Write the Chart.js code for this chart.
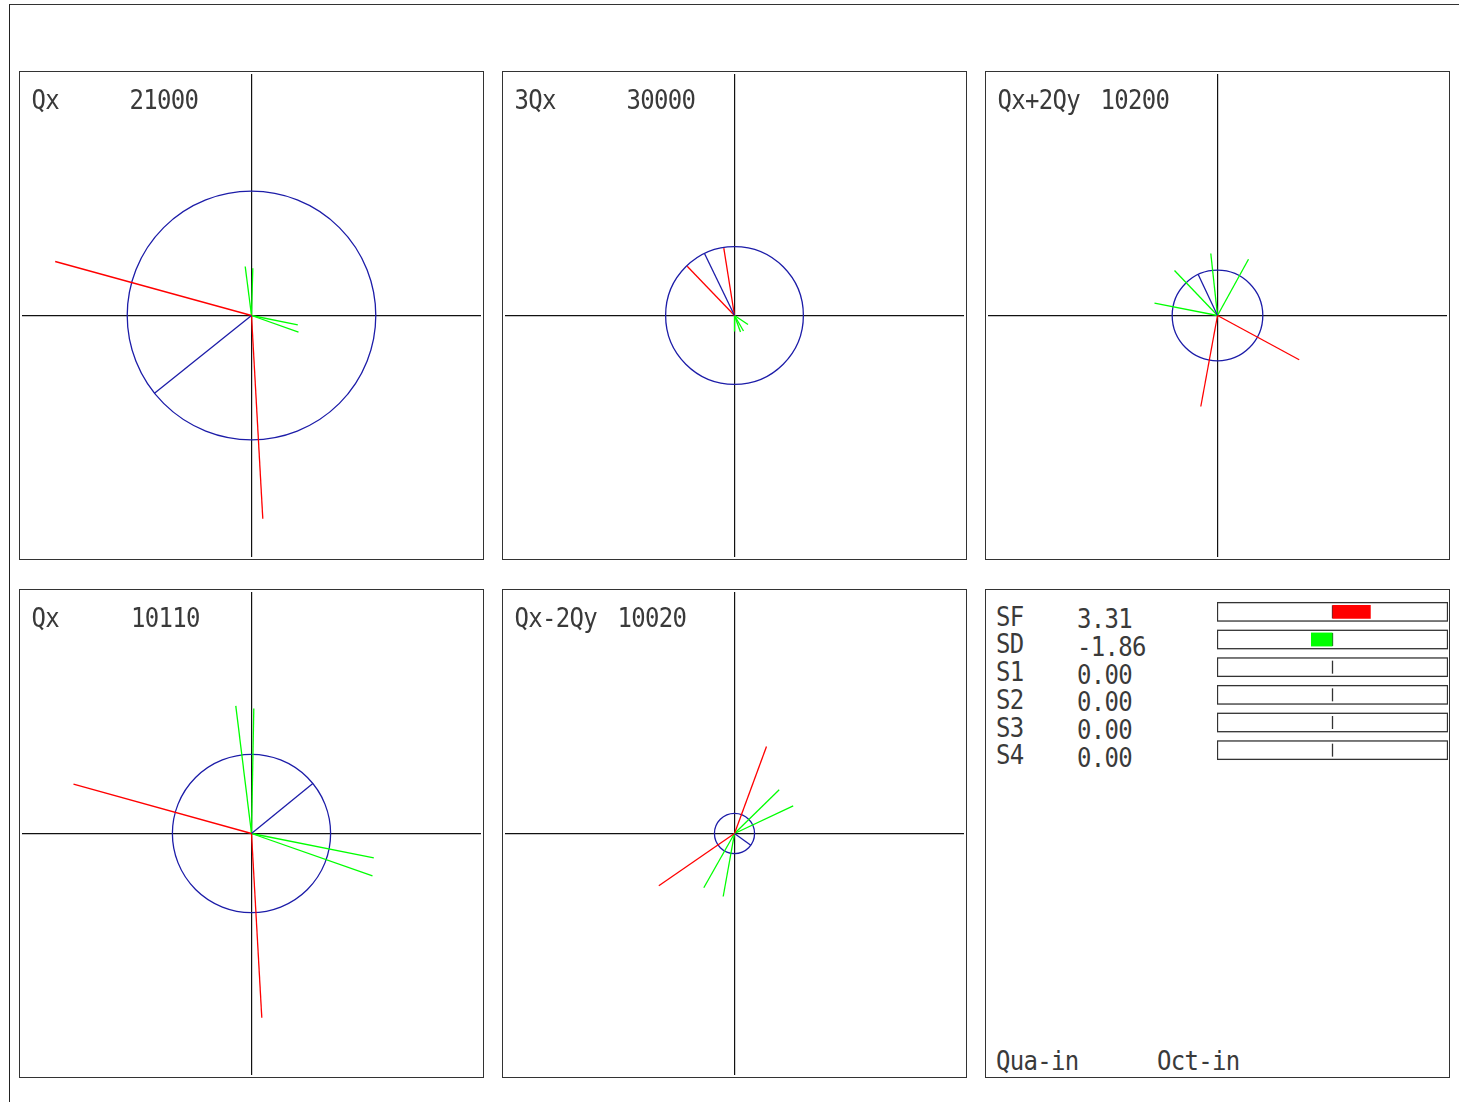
<!DOCTYPE html>
<html>
<head>
<meta charset="utf-8">
<script src="https://cdn.jsdelivr.net/npm/chart.js@4.4.1/dist/chart.umd.min.js"></script>
<style>
    body { margin: 0; background: #fff; width: 1459px; height: 1102px; overflow: hidden; position: relative; }
    .frame { position: absolute; left: 9px; top: 4px; right: -10px; bottom: -10px; border-top: 1px solid #333; border-left: 1.5px solid #222; }
    .panel { position: absolute; width: 465px; height: 489px; box-sizing: border-box; border: 1px solid #333; }
    .panel canvas { display: block; }
    .txt { position: absolute; font-family: "DejaVu Sans Mono", monospace; font-size: 24px; line-height: 24px; color: #3a3a3a;
           white-space: pre; letter-spacing: -0.7px; transform: scale(1, 1.08); transform-origin: 0 20px; }
    #barsWrap { position: absolute; left: 1217px; top: 598px; }
</style>
</head>
<body>
<div class="frame"></div>
<div id="root"></div>
<div id="barsWrap"><canvas id="bars" width="231" height="166"></canvas></div>

<script>
    // -----------------------------
    // DATA (vector end points, units ~ px from panel centre)
    // -----------------------------
    const panelNames = ["Qx", "3Qx", "Qx+2Qy", "Qx", "Qx-2Qy"];
    const panelCodes = ["21000", "30000", "10200", "10110", "10020"];

    // total driving term (blue); circle radius = its length
    const blueVectors = [[-97, -77.7], [-30, 62], [-19.3, 41], [61.3, 50], [16.3, -11.7]];

    // SF contributions (red)
    const redVectors = [
        [[-196.3, 54], [11.3, -203.3]],
        [[-47.3, 49.3], [-10.7, 67.3]],
        [[81.7, -44.3], [-16.7, -91]],
        [[-178, 49.3], [10.3, -184.3]],
        [[32, 87], [-75.7, -52.3]]
    ];

    // SD contributions (green)
    const greenVectors = [
        [[-6.3, 49], [1.3, 47.3], [46.3, -9.3], [47, -16.7]],
        [[0, -16], [6, -16.5], [9, -15.5], [13.5, -9]],
        [[-63, 12.3], [-43, 45], [-6.7, 62], [31, 56.3]],
        [[-15.7, 127.7], [2.3, 125], [122.3, -24.3], [121, -42.3]],
        [[44.7, 43.7], [58.7, 27.7], [-30.7, -54.3], [-11.3, -63]]
    ];

    // sextupole strengths
    const strengthNames = ["SF", "SD", "S1", "S2", "S3", "S4"];
    const strengthValues = [3.31, -1.86, 0.00, 0.00, 0.00, 0.00];
    const strengthColors = ["#ff0000", "#00ff00", "#ff0000", "#ff0000", "#ff0000", "#ff0000"];

    const footerLabels = ["Qua-in", "Oct-in"];

    // -----------------------------
    // LAYOUT
    // -----------------------------
    const panelLeft = [19, 502, 985];
    const panelTop = [71, 589];
    const HALF_X = 229.5, HALF_Y = 241.5;
    const root = document.getElementById("root");

    function addText(str, x, baseline) {
        const d = document.createElement("div");
        d.className = "txt";
        d.textContent = str;
        d.style.left = x + "px";
        d.style.top = (baseline - 20.3) + "px";
        document.body.appendChild(d);
        return d;
    }

    // circle plugin: radius from the blue vector through the chart's own scales
    const circlePlugin = {
        id: "ampCircle",
        beforeDatasetsDraw(chart, args, opts) {
            const sx = chart.scales.x, sy = chart.scales.y;
            const r = Math.hypot(opts.vec[0], opts.vec[1]);
            const cx = sx.getPixelForValue(0), cy = sy.getPixelForValue(0);
            const rp = Math.abs(sx.getPixelForValue(r) - cx);
            const ctx = chart.ctx;
            ctx.save();
            ctx.strokeStyle = "#1c1ca8";
            ctx.lineWidth = 1.3;
            ctx.beginPath();
            ctx.arc(cx, cy, rp, 0, Math.PI * 2);
            ctx.stroke();
            ctx.restore();
        }
    };

    function vec(v, color) {
        return {
            data: [{ x: 0, y: 0 }, { x: v[0], y: v[1] }],
            showLine: true,
            borderColor: color,
            borderWidth: 1.3,
            pointRadius: 0
        };
    }

    function axisOpts(half) {
        return {
            type: "linear",
            min: -half,
            max: half,
            ticks: { display: false, stepSize: half },
            grid: {
                drawTicks: false,
                lineWidth: 1.2,
                color: c => (c.tick && c.tick.value === 0) ? "#111" : "rgba(0,0,0,0)"
            },
            border: { display: false }
        };
    }

    panelNames.forEach((name, i) => {
        const col = i % 3, row = Math.floor(i / 3);
        const left = panelLeft[col], top = panelTop[row];

        const div = document.createElement("div");
        div.className = "panel";
        div.style.left = left + "px";
        div.style.top = top + "px";
        const cv = document.createElement("canvas");
        cv.width = 463;
        cv.height = 487;
        div.appendChild(cv);
        root.appendChild(div);

        const datasets = [vec(blueVectors[i], "#1c1ca8")];
        redVectors[i].forEach(v => datasets.push(vec(v, "#ff0000")));
        greenVectors[i].forEach(v => datasets.push(vec(v, "#00ff00")));

        new Chart(cv.getContext("2d"), {
            type: "scatter",
            data: { datasets },
            options: {
                responsive: false,
                animation: false,
                layout: { padding: 2 },
                plugins: { legend: { display: false }, tooltip: { enabled: false }, ampCircle: { vec: blueVectors[i] } },
                scales: { x: axisOpts(HALF_X), y: axisOpts(HALF_Y) }
            },
            plugins: [circlePlugin]
        });

        addText(name, left + 12.5, top + 38);
        const codeX = [110.5, 124.5, 115.5, 112, 115.5][i];
        addText(panelCodes[i], left + codeX, top + 38);
    });

    // -----------------------------
    // STRENGTH PANEL
    // -----------------------------
    const p6 = document.createElement("div");
    p6.className = "panel";
    p6.style.left = panelLeft[2] + "px";
    p6.style.top = panelTop[1] + "px";
    root.appendChild(p6);

    strengthNames.forEach((n, i) => {
        addText(n, 996, 626 + i * 27.7);
        addText(strengthValues[i].toFixed(2), 1077, 628.5 + i * 27.7);
    });
    addText(footerLabels[0], 996, 1070);
    addText(footerLabels[1], 1157, 1070);

    const framePlugin = {
        id: "rowFrames",
        beforeDatasetsDraw(chart) {
            const sx = chart.scales.x, sy = chart.scales.y, ctx = chart.ctx;
            const x0 = sx.getPixelForValue(0);
            ctx.save();
            ctx.strokeStyle = "#333";
            ctx.lineWidth = 1.3;
            strengthNames.forEach((n, i) => {
                const yc = sy.getPixelForValue(i);
                ctx.strokeRect(sx.left + 0.5, yc - 9.2, sx.right - sx.left - 1, 18.4);
                ctx.beginPath();
                ctx.moveTo(x0, yc - 6.5);
                ctx.lineTo(x0, yc + 6.5);
                ctx.stroke();
            });
            ctx.restore();
        }
    };

    new Chart(document.getElementById("bars").getContext("2d"), {
        type: "bar",
        data: {
            labels: strengthNames,
            datasets: [{
                data: strengthValues,
                backgroundColor: strengthColors,
                barPercentage: 0.5,
                categoryPercentage: 1
            }]
        },
        options: {
            indexAxis: "y",
            responsive: false,
            animation: false,
            layout: { padding: 0 },
            plugins: { legend: { display: false }, tooltip: { enabled: false } },
            scales: {
                x: { min: -10, max: 10, display: false },
                y: { display: false }
            }
        },
        plugins: [framePlugin]
    });
</script>
</body>
</html>
